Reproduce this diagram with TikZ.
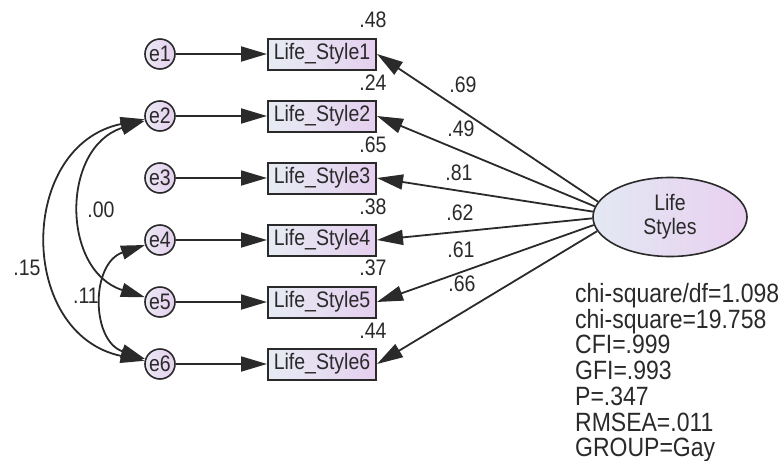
\documentclass[tikz,border=0pt]{standalone}
\usepackage{fontspec}
\setmainfont{Liberation Sans}
\usetikzlibrary{arrows.meta,shapes.geometric}
\definecolor{ink}{HTML}{2A2A2A}
\definecolor{boxL}{HTML}{E6ECF3}
\definecolor{boxR}{HTML}{E5CFEF}
\definecolor{errL}{HTML}{ECE8F4}
\definecolor{errR}{HTML}{E4CFEE}
\definecolor{latL}{HTML}{E3E8F2}
\definecolor{latR}{HTML}{E9D0F1}
\newcommand{\vstretch}[1]{\scalebox{1}[1.15]{#1}}
\begin{document}
\begin{tikzpicture}[x=1pt,y=1pt,
  lbl/.style={font=\fontsize{19.5}{24}\selectfont, text=ink, inner sep=0pt},
  errnode/.style={circle, draw=ink, line width=1.6pt, minimum size=30pt, inner sep=0pt, left color=errL, right color=errR, lbl},
  obsbox/.style={rectangle, draw=ink, line width=2pt, minimum width=108pt, minimum height=31pt, inner sep=0pt, left color=boxL, right color=boxR, lbl},
  latent/.style={ellipse, draw=ink, line width=1.6pt, minimum width=154pt, minimum height=79pt, inner sep=0pt, left color=latL, right color=latR, lbl},
  pathline/.style={draw=ink, line width=1.8pt, -{Triangle[length=26pt,width=15pt]}},
  cov/.style={draw=ink, line width=1.8pt, {Triangle[length=24pt,width=14pt]}-{Triangle[length=24pt,width=14pt]}},
]
\useasboundingbox (0,0) rectangle (780,-461);

% error terms
\node[errnode] (e1) at (160,-54) {\vstretch{e1}};
\node[errnode] (e2) at (160,-116) {\vstretch{e2}};
\node[errnode] (e3) at (160,-178) {\vstretch{e3}};
\node[errnode] (e4) at (160,-240) {\vstretch{e4}};
\node[errnode] (e5) at (160,-302) {\vstretch{e5}};
\node[errnode] (e6) at (160,-364) {\vstretch{e6}};

% observed variables
\node[obsbox] (LS1) at (322,-54) {\vstretch{Life\_Style1}};
\node[obsbox] (LS2) at (322,-116) {\vstretch{Life\_Style2}};
\node[obsbox] (LS3) at (322,-178) {\vstretch{Life\_Style3}};
\node[obsbox] (LS4) at (322,-240) {\vstretch{Life\_Style4}};
\node[obsbox] (LS5) at (322,-302) {\vstretch{Life\_Style5}};
\node[obsbox] (LS6) at (322,-364) {\vstretch{Life\_Style6}};

% latent
\node[latent] (L) at (670,-217) {\vstretch{\vbox{\baselineskip=21pt\lineskiplimit=-100pt
  \hbox to 60pt{\hfil Life\hfil}\hbox to 60pt{\hfil Styles\hfil}}}};

% error paths
\draw[pathline] (e1) -- (LS1);
\draw[pathline] (e2) -- (LS2);
\draw[pathline] (e3) -- (LS3);
\draw[pathline] (e4) -- (LS4);
\draw[pathline] (e5) -- (LS5);
\draw[pathline] (e6) -- (LS6);

% loadings
\draw[pathline] (L.168) -- (LS1.east);
\draw[pathline] (L.172) -- (LS2.east);
\draw[pathline] (L.176) -- (LS3.east);
\draw[pathline] (L.181) -- (LS4.east);
\draw[pathline] (L.186) -- (LS5.east);
\draw[pathline] (L.191) -- (LS6.east);

% covariances
\draw[cov] (e2) to[out=197.5, in=162.5, looseness=1.28] (e5);
\draw[cov] (e2) to[out=191.7, in=168.3, looseness=1.38] (e6);
\draw[cov] (e4) to[out=198.5, in=161.5, looseness=1.29] (e6);

% squared multiple correlations
\node[lbl] (r1) at (373,-20) {\vstretch{.48}};
\node[lbl] (r2) at (373,-83) {\vstretch{.24}};
\node[lbl] (r3) at (373,-145) {\vstretch{.65}};
\node[lbl] (r4) at (373,-207) {\vstretch{.38}};
\node[lbl] (r5) at (373,-268) {\vstretch{.37}};
\node[lbl] (r6) at (373,-331) {\vstretch{.44}};

% loading labels
\node[lbl] (w1) at (463,-85) {\vstretch{.69}};
\node[lbl] (w2) at (461,-129) {\vstretch{.49}};
\node[lbl] (w3) at (459,-173) {\vstretch{.81}};
\node[lbl] (w4) at (460,-213) {\vstretch{.62}};
\node[lbl] (w5) at (461,-250) {\vstretch{.61}};
\node[lbl] (w6) at (462,-284) {\vstretch{.66}};

% covariance labels
\node[lbl] (c1) at (101,-210) {\vstretch{.00}};
\node[lbl] (c2) at (27,-268) {\vstretch{.15}};
\node[lbl] (c3) at (86,-296) {\vstretch{.11}};

% fit statistics
\node[anchor=north west, inner sep=0pt, text=ink,
      font=\fontsize{23}{22.4}\selectfont] (fit) at (575,-283)
 {\vstretch{\vbox{\baselineskip=22.4pt\lineskiplimit=-100pt
   \hbox{chi-square/df=1.098}\hbox{chi-square=19.758}\hbox{CFI=.999}\hbox{GFI=.993}%
   \hbox{P=.347}\hbox{RMSEA=.011}\hbox{GROUP=Gay}}}};
\end{tikzpicture}
\end{document}
